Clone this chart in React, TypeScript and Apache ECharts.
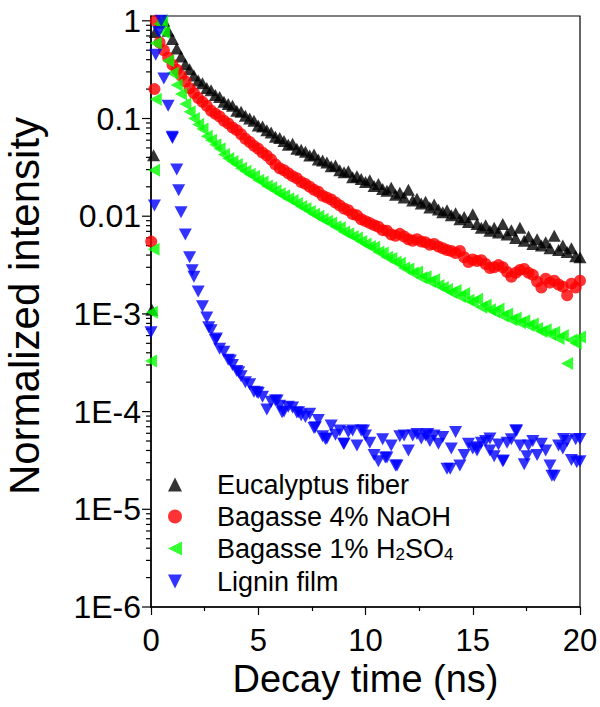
import React, { useEffect, useRef } from "react";
import * as echarts from "echarts";

const seriesNames = ["Eucalyptus fiber", "Bagasse 4% NaOH", "Bagasse 1% H2SO4", "Lignin film"];
const yTickLabels = ["1", "0.1", "0.01", "1E-3", "1E-4", "1E-5", "1E-6"];
const yMajorTicks = [1, 0.1, 0.01, 1e-3, 1e-4, 1e-5, 1e-6];
const yMinorFactors = [2, 3, 4, 5, 6, 7, 8, 9];

// common decay time grid (ns)
const decayT = [
  0.6, 0.8, 1.0, 1.2, 1.4, 1.6, 1.8, 2.0, 2.2, 2.4,
  2.6, 2.8, 3.0, 3.2, 3.4, 3.6, 3.8, 4.0, 4.2, 4.4,
  4.6, 4.8, 5.0, 5.2, 5.4, 5.6, 5.8, 6.0, 6.2, 6.4,
  6.6, 6.8, 7.0, 7.2, 7.4, 7.6, 7.8, 8.0, 8.2, 8.4,
  8.6, 8.8, 9.0, 9.2, 9.4, 9.6, 9.8, 10.0, 10.2, 10.4,
  10.6, 10.8, 11.0, 11.2, 11.4, 11.6, 11.8, 12.0, 12.2, 12.4,
  12.6, 12.8, 13.0, 13.2, 13.4, 13.6, 13.8, 14.0, 14.2, 14.4,
  14.6, 14.8, 15.0, 15.2, 15.4, 15.6, 15.8, 16.0, 16.2, 16.4,
  16.6, 16.8, 17.0, 17.2, 17.4, 17.6, 17.8, 18.0, 18.2, 18.4,
  18.6, 18.8, 19.0, 19.2, 19.4, 19.6, 19.8, 20.0,
];

const blackRiseT = [0.04, 0.12, 0.2, 0.4];
const blackRiseV = [0.0011, 0.042, 0.77, 0.96];
const blackDecay = [
  1.0, 0.79, 0.65, 0.52, 0.43, 0.36, 0.32, 0.275, 0.245, 0.23,
  0.205, 0.195, 0.174, 0.166, 0.148, 0.141, 0.135, 0.12, 0.117, 0.107,
  0.1, 0.095, 0.085, 0.083, 0.076, 0.072, 0.065, 0.063, 0.059, 0.054,
  0.055, 0.049, 0.048, 0.0457, 0.0417, 0.0427, 0.038, 0.0372, 0.0355, 0.0324,
  0.0331, 0.0295, 0.0282, 0.0288, 0.0251, 0.0257, 0.024, 0.0224, 0.0234, 0.0204,
  0.0214, 0.019, 0.0182, 0.0195, 0.0166, 0.0174, 0.0155, 0.0186, 0.0145, 0.0151,
  0.0135, 0.0141, 0.0123, 0.0132, 0.0117, 0.011, 0.0115, 0.0102, 0.0107, 0.0093,
  0.0098, 0.0087, 0.0105, 0.0083, 0.0076, 0.0081, 0.0071, 0.0076, 0.0068, 0.0083,
  0.0065, 0.0072, 0.006, 0.0076, 0.0056, 0.0062, 0.0052, 0.0058, 0.005, 0.0054,
  0.0047, 0.0063, 0.0045, 0.005, 0.0043, 0.0047, 0.0039, 0.0038,
];

const redRiseT = [0.01, 0.16, 0.22, 0.4];
const redRiseV = [0.0055, 0.2, 1.0, 0.6];
const redDecay = [
  0.5, 0.42, 0.355, 0.316, 0.275, 0.24, 0.204, 0.182, 0.162, 0.148,
  0.135, 0.12, 0.112, 0.105, 0.095, 0.089, 0.081, 0.076, 0.069, 0.062,
  0.0575, 0.0525, 0.049, 0.0447, 0.0417, 0.038, 0.0339, 0.031, 0.0295, 0.0275,
  0.0257, 0.0245, 0.0224, 0.0214, 0.02, 0.0186, 0.0178, 0.0162, 0.0155, 0.0148,
  0.0138, 0.0129, 0.012, 0.0115, 0.0105, 0.0102, 0.0093, 0.0089, 0.0085, 0.0081,
  0.0078, 0.0072, 0.0071, 0.0065, 0.0063, 0.0066, 0.0062, 0.0058, 0.0056, 0.0058,
  0.0055, 0.0054, 0.0051, 0.0052, 0.0049, 0.0047, 0.0045, 0.0044, 0.0042, 0.0044,
  0.0038, 0.0034, 0.0036, 0.00347, 0.00355, 0.00324, 0.00295, 0.003, 0.00316, 0.003,
  0.00269, 0.0024, 0.00263, 0.00282, 0.00288, 0.00263, 0.00251, 0.00214, 0.00186, 0.00229,
  0.00209, 0.00219, 0.002, 0.0019, 0.00155, 0.00204, 0.00186, 0.00219,
];

const greenRiseT = [0.0, 0.04, 0.12, 0.14, 0.22, 0.22, 0.4, 0.52];
const greenRiseV = [0.00033, 0.00104, 0.0046, 0.0295, 0.157, 0.59, 0.93, 1.0];
const greenDecay = [
  0.76, 0.39, 0.29, 0.22, 0.178, 0.141, 0.117, 0.1, 0.087, 0.078,
  0.066, 0.06, 0.054, 0.049, 0.0427, 0.039, 0.0363, 0.0339, 0.0309, 0.0288,
  0.0269, 0.0257, 0.0234, 0.0224, 0.0204, 0.0195, 0.0182, 0.017, 0.0162, 0.0151,
  0.0145, 0.0135, 0.0126, 0.012, 0.0112, 0.0105, 0.01, 0.0093, 0.0089, 0.0085,
  0.0078, 0.0076, 0.0069, 0.0066, 0.0062, 0.006, 0.0055, 0.0052, 0.0049, 0.0048,
  0.0043, 0.0042, 0.0038, 0.0037, 0.0034, 0.0033, 0.00295, 0.00288, 0.00263, 0.00269,
  0.00234, 0.0024, 0.00214, 0.00224, 0.00195, 0.00186, 0.00178, 0.00166, 0.00174, 0.00151,
  0.00162, 0.00138, 0.00132, 0.00141, 0.00117, 0.00123, 0.0011, 0.00105, 0.00112, 0.00095,
  0.001, 0.00087, 0.00091, 0.00081, 0.00085, 0.00076, 0.00079, 0.00071, 0.00066, 0.00069,
  0.00062, 0.00065, 0.00056, 0.0006, 0.00031, 0.00054, 0.0005, 0.00058,
];

const blueRiseT = [0.0, 0.16, 0.22, 0.36, 0.48];
const blueRiseV = [0.00065, 0.0129, 0.45, 0.77, 1.0];
const blueDecay = [
  0.257, 0.135, 0.063, 0.03, 0.011, 0.0065, 0.0038, 0.0024, 0.0017, 0.0012,
  0.00092, 0.00068, 0.00054, 0.00044, 0.00041, 0.00034, 0.0003, 0.00026, 0.00023, 0.0002,
  0.00019, 0.00016, 0.000155, 0.000142, 0.000105, 0.000126, 0.00013, 0.000115, 0.0001, 0.000112,
  0.00011, 0.000098, 0.000092, 0.000088, 0.000095, 0.000068, 0.000082, 0.000056, 0.000053, 0.000072,
  0.000058, 0.000064, 0.000047, 0.000062, 0.000064, 0.000045, 0.000064, 0.000057, 0.000048, 0.000036,
  0.000031, 0.000052, 0.000034, 0.000045, 0.000028, 0.000056, 0.000057, 0.00004, 0.000057, 0.000059,
  0.000053, 0.000057, 0.00005, 0.000057, 0.000047, 0.000055, 0.000026, 0.000042, 0.000062, 0.000028,
  0.000036, 0.000047, 0.000042, 0.00004, 0.000048, 0.00005, 0.00004, 0.000035, 0.000046, 0.000031,
  0.000048, 0.000052, 0.000064, 0.000045, 0.000029, 0.000045, 0.00005, 0.000036, 0.000047, 0.00004,
  0.000028, 0.000022, 0.000045, 0.000042, 0.00005, 0.000032, 0.000052, 0.000031,
];
const blueExtraT = [0.99, 1.29, 1.92, 2.69, 3.05, 3.7, 4.09, 4.94, 5.88, 6.11, 6.88, 7.66, 8.13, 8.98, 9.91, 10.92, 11.47, 12.9, 13.95, 15.2, 15.8, 16.43, 17.05, 17.52, 18.69, 19.23, 19.85, 20.0];
const blueExtraV = [0.065, 0.0184, 0.0028, 0.00073, 0.00056, 0.000334, 0.000253, 0.000158, 0.00013, 0.0000986, 0.0000986, 0.0000692, 0.0000525, 0.0000468, 0.000064, 0.000034, 0.000028, 0.000059, 0.000026, 0.0000431, 0.000053, 0.0000315, 0.000064, 0.000035, 0.0000221, 0.0000525, 0.0000303, 0.0000525];

const FONT = "'Liberation Sans', Arial, Helvetica, sans-serif";

const legendIcons = [
  "triangle",
  "circle",
  "path://M0,6 L12,0 L12,12 Z",
  "path://M0,0 L12,0 L6,12 Z",
];

function pairs(ts: number[], vs: number[]) {
  return ts.map((t, i) => [t, vs[i]]);
}

export default function App() {
  const ref = useRef<HTMLDivElement>(null);
  useEffect(() => {
    if (!ref.current) return;
    const chart = echarts.init(ref.current, undefined, { renderer: "svg" });

    const tickData: number[][] = [];
    yMajorTicks.forEach((v) => tickData.push([0, v, 9]));
    yMajorTicks.slice(1).forEach((v) => {
      yMinorFactors.forEach((f) => tickData.push([0, v * f, 5]));
    });

    const sym = { type: "scatter" as const };
    chart.setOption({
      animation: false,
      backgroundColor: "#fff",
      textStyle: { fontFamily: FONT },
      grid: {
        left: 151,
        right: 20,
        top: 16,
        bottom: 100,
        show: true,
        borderColor: "#000",
        borderWidth: 1.2,
        containLabel: false,
        outerBoundsMode: "none",
      },
      legend: {
        data: seriesNames.map((n, i) => ({ name: n, icon: legendIcons[i] })),
        orient: "vertical",
        left: 163,
        top: 466,
        itemWidth: 14,
        itemHeight: 14,
        itemGap: 5,
        selectedMode: false,
        formatter: (name: string) => {
          if (name === "Bagasse 1% H2SO4") return "{n|Bagasse 1% H}{s|2}{n|SO}{s|4}";
          return "{n|" + name + "}";
        },
        textStyle: {
          color: "#000",
          fontFamily: FONT,
          padding: [0, 0, 0, 30],
          rich: {
            n: { fontSize: 27, lineHeight: 29, color: "#000", fontFamily: FONT, verticalAlign: "middle" },
            s: { fontSize: 17, lineHeight: 17, color: "#000", fontFamily: FONT, verticalAlign: "bottom" },
          },
        },
      },
      xAxis: {
        type: "value",
        min: 0,
        max: 20,
        interval: 5,
        name: "Decay time (ns)",
        nameLocation: "middle",
        nameGap: 53,
        nameMoveOverlap: false,
        nameTextStyle: { fontSize: 38, color: "#000", fontFamily: FONT },
        axisLine: { lineStyle: { color: "#000", width: 1.5 } },
        axisTick: { show: true, length: 8, inside: false, lineStyle: { color: "#000", width: 1.2 } },
        minorTick: { show: true, splitNumber: 2, length: 4, lineStyle: { color: "#000", width: 1.2 } },
        axisLabel: { fontSize: 31, color: "#000", margin: 18, fontFamily: FONT },
        splitLine: { show: false },
      },
      yAxis: {
        type: "log",
        logBase: 10,
        min: 1e-6,
        max: 1.12,
        name: "Normalized intensity",
        nameLocation: "middle",
        nameGap: 106,
        nameMoveOverlap: false,
        nameTextStyle: { fontSize: 42, color: "#000", fontFamily: FONT, padding: [0, 0, 0, 11] },
        axisLine: { lineStyle: { color: "#000", width: 1.5 } },
        axisTick: { show: false },
        axisLabel: {
          fontSize: 32,
          color: "#000",
          margin: 10,
          fontFamily: FONT,
          formatter: (v: number) => {
            const e = Math.log10(v);
            if (Math.abs(e - Math.round(e)) > 0.01) return "";
            const idx = -Math.round(e);
            return yTickLabels[idx] ?? "";
          },
        },
        splitLine: { show: false },
      },
      series: [
        {
          ...sym,
          name: seriesNames[0],
          symbol: "triangle",
          symbolSize: [13, 12],
          itemStyle: { color: "#000000" },
          data: [...pairs(blackRiseT, blackRiseV), ...pairs(decayT, blackDecay)],
        },
        {
          ...sym,
          name: seriesNames[1],
          symbol: "circle",
          symbolSize: 12,
          itemStyle: { color: "#ff0000" },
          data: [...pairs(redRiseT, redRiseV), ...pairs(decayT, redDecay)],
        },
        {
          ...sym,
          name: seriesNames[2],
          symbol: "triangle",
          symbolRotate: 90,
          symbolSize: [13, 12],
          itemStyle: { color: "#00ff00" },
          data: [...pairs(greenRiseT, greenRiseV), ...pairs(decayT, greenDecay)],
        },
        {
          ...sym,
          name: seriesNames[3],
          symbol: "triangle",
          symbolRotate: 180,
          symbolSize: [13, 12],
          itemStyle: { color: "#0000ff" },
          data: [
            ...pairs(blueRiseT, blueRiseV),
            ...pairs(decayT, blueDecay),
            ...pairs(blueExtraT, blueExtraV),
          ],
        },
        {
          type: "custom",
          name: "yticks",
          silent: true,
          clip: false,
          data: tickData,
          renderItem: (params: any, api: any) => {
            const p = api.coord([api.value(0), api.value(1)]);
            const len = api.value(2);
            return {
              type: "line",
              shape: { x1: p[0] - len, y1: p[1], x2: p[0], y2: p[1] },
              style: { stroke: "#000", lineWidth: 1.2 },
            };
          },
        },
      ],
    });
    return () => chart.dispose();
  }, []);
  return <div ref={ref} style={{ width: 600, height: 707, position: "absolute", left: 0, top: 0 }} />;
}
